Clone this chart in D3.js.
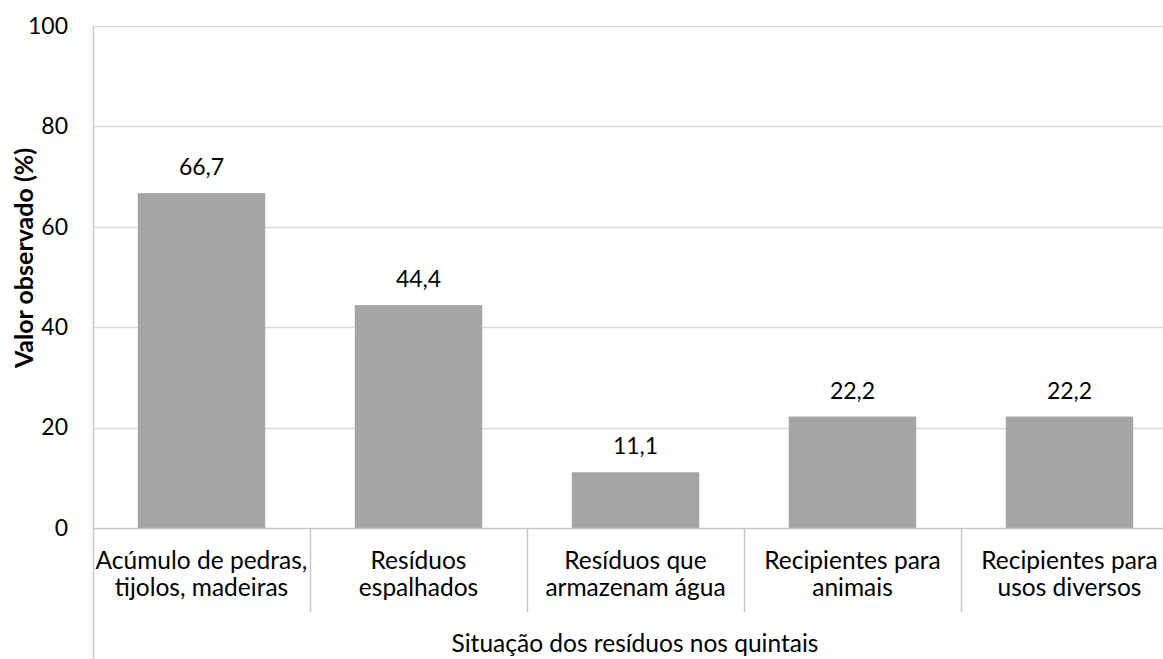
<!DOCTYPE html>
<html>
<head>
<meta charset="utf-8">
<script src="https://cdn.jsdelivr.net/npm/d3@7"></script>
<style>
  html, body { margin: 0; padding: 0; background: #fff; }
  svg { display: block; font-family: Lato, "Open Sans", sans-serif; }
</style>
</head>
<body>
<svg id="chart" width="1163" height="659"></svg>
<script>
// Categories (each split into the two lines shown under the axis)
const categories = [
  ["Acúmulo de pedras,", "tijolos, madeiras"],
  ["Resíduos", "espalhados"],
  ["Resíduos que", "armazenam água"],
  ["Recipientes para", "animais"],
  ["Recipientes para", "usos diversos"]
];
const values = [66.7, 44.4, 11.1, 22.2, 22.2];
const yTicks = [0, 20, 40, 60, 80, 100];
const yTitle = "Valor observado (%)";
const xTitle = "Situação dos resíduos nos quintais";

const svg = d3.select("#chart");
const plot = { left: 93, top: 26, bottom: 528, catWidth: 217 };
const keys = categories.map((c, i) => i);

const x = d3.scaleBand()
  .domain(keys)
  .range([plot.left, plot.left + plot.catWidth * categories.length])
  .paddingInner(0.413)
  .paddingOuter(0.2065);

const y = d3.scaleLinear().domain([0, 100]).range([plot.bottom, plot.top]);

const fmt = v => d3.format(".1f")(v).replace(".", ",");

// Horizontal gridlines
svg.append("g")
  .selectAll("line")
  .data(yTicks.filter(t => t > 0))
  .join("line")
  .attr("x1", plot.left).attr("x2", 1163)
  .attr("y1", d => Math.round(y(d)) + 0.5).attr("y2", d => Math.round(y(d)) + 0.5)
  .attr("stroke", "#d9d9d9").attr("stroke-width", 1.5);

// Y axis (labels only; the axis line is drawn separately)
const yAxis = svg.append("g")
  .attr("transform", `translate(${plot.left},0)`)
  .call(d3.axisLeft(y).tickValues(yTicks).tickSize(0).tickPadding(25).tickFormat(d3.format("d")));
yAxis.select(".domain").remove();
yAxis.selectAll("text").attr("font-size", 23).attr("fill", "#000").attr("font-family", "Lato, sans-serif");

// Bars
svg.append("g")
  .selectAll("rect")
  .data(values)
  .join("rect")
  .attr("x", (d, i) => x(i))
  .attr("width", x.bandwidth())
  .attr("y", d => y(d))
  .attr("height", d => y(0) - y(d))
  .attr("fill", "#a5a5a5");

// Value labels
svg.append("g")
  .selectAll("text")
  .data(values)
  .join("text")
  .attr("x", (d, i) => x(i) + x.bandwidth() / 2)
  .attr("y", d => y(d) - 18)
  .attr("text-anchor", "middle")
  .attr("font-size", 23)
  .attr("fill", "#000")
  .text(d => fmt(d));

// Category axis: baseline, dividers and two-line labels
const axisColor = "#c8c8c8";
svg.append("line")
  .attr("x1", plot.left).attr("x2", 1163)
  .attr("y1", plot.bottom + 0.5).attr("y2", plot.bottom + 0.5)
  .attr("stroke", axisColor).attr("stroke-width", 1.5);

svg.append("line")
  .attr("x1", plot.left + 0.5).attr("x2", plot.left + 0.5)
  .attr("y1", plot.top).attr("y2", 659)
  .attr("stroke", axisColor).attr("stroke-width", 1.5);

const bounds = keys.slice(1).map(i => x(i) - x.step() * x.paddingInner() / 2);
svg.append("g")
  .selectAll("line")
  .data(bounds)
  .join("line")
  .attr("x1", d => Math.round(d) + 0.5).attr("x2", d => Math.round(d) + 0.5)
  .attr("y1", plot.bottom).attr("y2", 612)
  .attr("stroke", axisColor).attr("stroke-width", 1.5);

const labels = svg.append("g")
  .selectAll("text")
  .data(categories)
  .join("text")
  .attr("text-anchor", "middle")
  .attr("font-size", 24.5)
  .attr("fill", "#000");
labels.each(function(lines, i) {
  const cx = x(i) + x.bandwidth() / 2;
  d3.select(this).selectAll("tspan")
    .data(lines)
    .join("tspan")
    .attr("x", cx)
    .attr("y", (d, j) => 569 + j * 27)
    .text(d => d);
});

// Axis titles
svg.append("text")
  .attr("x", 635).attr("y", 652)
  .attr("text-anchor", "middle")
  .attr("font-size", 24.5)
  .attr("fill", "#000")
  .text(xTitle);

svg.append("text")
  .attr("transform", "translate(33,258) rotate(-90)")
  .attr("text-anchor", "middle")
  .attr("font-size", 25)
  .attr("font-weight", "bold")
  .attr("fill", "#000")
  .text(yTitle);
</script>
</body>
</html>
